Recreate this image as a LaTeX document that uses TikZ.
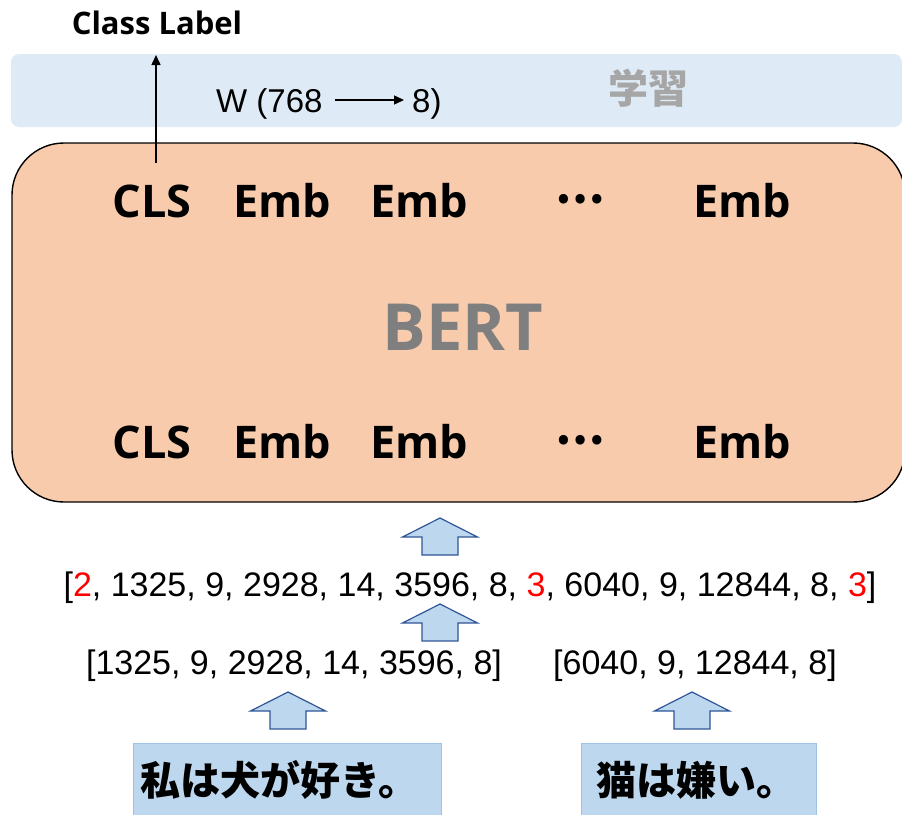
\documentclass[tikz,border=0pt]{standalone}
\usepackage{fontspec}
\usetikzlibrary{arrows.meta}
\newfontfamily\osfont{Open Sans}
\newfontfamily\arfont{Liberation Sans}
\newfontfamily\cjkfont{Noto Sans CJK JP}
\definecolor{bandblue}{HTML}{DEEBF7}
\definecolor{bertfill}{HTML}{F8CBAD}
\definecolor{arrfill}{HTML}{BDD7EE}
\definecolor{arrdraw}{HTML}{2F5597}
\definecolor{boxfill}{HTML}{BDD7EE}
\definecolor{boxdraw}{HTML}{9DC3E6}
\definecolor{bertgrey}{HTML}{7F7F7F}
\definecolor{learngrey}{HTML}{A6A6A6}
\definecolor{tokred}{HTML}{FF0000}
\tikzset{
  emb/.style={inner sep=0pt, anchor=base, font=\osfont\bfseries\fontsize{45}{50}\selectfont},
  dots/.style={inner sep=0pt, font=\cjkfont\bfseries\fontsize{44}{50}\selectfont},
  nums/.style={inner sep=0pt, anchor=base, font=\arfont\fontsize{34}{40}\selectfont},
  jp/.style={inner sep=0pt, anchor=west, font=\cjkfont\bfseries\fontsize{40}{46}\selectfont},
  jpbox/.style={fill=boxfill, draw=boxdraw, line width=1pt},
  blockarrow/.style={fill=arrfill, draw=arrdraw, line width=1.2pt, line join=miter},
  uparr/.pic={\draw[blockarrow] (0,0) -- (37.5,19) -- (18,19) -- (18,37) -- (-18,37) -- (-18,19) -- (-37.5,19) -- cycle;},
  thinarrow/.style={line width=1.5pt, -{Triangle[length=10pt,width=9pt]}}
}
\begin{document}
\begin{tikzpicture}[x=1pt,y=-1pt]
\useasboundingbox (0,0) rectangle (902,814);
% learning band
\fill[bandblue, rounded corners=8] (11,54) rectangle (902,127);
% BERT box
\draw[fill=bertfill, line width=1.4pt, rounded corners=52] (12,143) rectangle (905,502);

% class label
\node[inner sep=0pt, anchor=base, font=\osfont\bfseries\fontsize{31}{36}\selectfont] (cl) at (157,34) {Class Label};
\coordinate (clsout) at (156,163);
\coordinate (cltip) at (156,55);
\draw[thinarrow] (clsout) -- (cltip);

% W text
\node[inner sep=0pt, anchor=base west, font=\arfont\fontsize{33}{38}\selectfont] (w1) at (216,112) {W (768};
\node[inner sep=0pt, anchor=base west, font=\arfont\fontsize{33}{38}\selectfont] (w2) at (412,112) {8)};
\coordinate (wa) at (335,100);
\coordinate (wb) at (404,100);
\draw[line width=1.3pt, -{Triangle[length=10pt,width=9pt]}] (wa) -- (wb);
\node[inner sep=0pt, font=\cjkfont\bfseries\fontsize{40}{46}\selectfont, text=learngrey] (learn) at (648,88) {学習};

% top row
\node[emb] (tcls) at (152,217) {CLS};
\node[emb] (te1) at (282,217) {Emb};
\node[emb] (te2) at (419,217) {Emb};
\node[dots] (tdots) at (580,199) {…};
\node[emb] (te3) at (742,217) {Emb};

% BERT
\node[inner sep=0pt, anchor=base, text=bertgrey, font=\osfont\bfseries\fontsize{65}{72}\selectfont] (bert) at (463,350) {BERT};

% bottom row
\node[emb] (bcls) at (152,458) {CLS};
\node[emb] (be1) at (282,458) {Emb};
\node[emb] (be2) at (419,458) {Emb};
\node[dots] (bdots) at (580,440) {…};
\node[emb] (be3) at (742,458) {Emb};

% block arrows
\pic at (440,518) {uparr};
\pic at (440,604) {uparr};
\pic at (288,692) {uparr};
\pic at (692,692) {uparr};

% token lines
\node[nums] (tok) at (470,596) {[\textcolor{tokred}{2}, 1325, 9, 2928, 14, 3596, 8, \textcolor{tokred}{3}, 6040, 9, 12844, 8, \textcolor{tokred}{3}]};
\node[nums] (tokA) at (294,674) {[1325, 9, 2928, 14, 3596, 8]};
\node[nums] (tokB) at (695,674) {[6040, 9, 12844, 8]};

% sentence boxes
\draw[jpbox] (133,743) rectangle (441,818);
\draw[jpbox] (581,743) rectangle (816,818);
\node[jp] (s1) at (140,780) {私は犬が好き。};
\node[jp] (s2) at (596,780) {猫は嫌い。};
\end{tikzpicture}
\end{document}
